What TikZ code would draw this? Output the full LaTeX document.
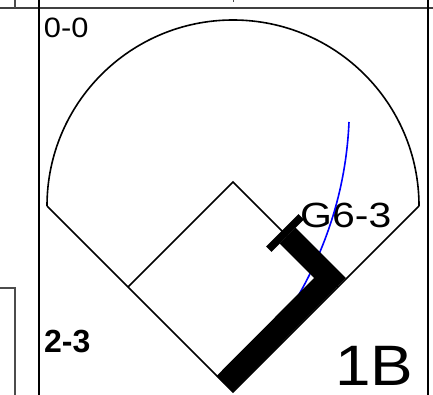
\documentclass[tikz,border=0pt]{standalone}
\usepackage{fontspec}
\setmainfont{Liberation Sans}

\begin{document}
\begin{tikzpicture}[x=1pt, y=-1pt,
    thin line/.style={line width=1.6pt},
    rule line/.style={line width=2pt, black!75},
    score/.style={anchor=base west, inner sep=0pt}]
    \useasboundingbox (0,0) rectangle (433,395);

    % Define the points of the field
    \coordinate (home) at (233,392);
    \coordinate (first) at (338,287);
    \coordinate (second) at (233,182);
    \coordinate (third) at (128,287);
    \coordinate (leftpole) at (47,206);
    \coordinate (rightpole) at (419,206);

    % Draw the box lines
    \draw[rule line] (0,8) -- (433,8);
    \draw[thin line] (39,0) -- (39,395);
    \draw[thin line] (428,0) -- (428,395);
    \draw[thin line, black!70] (15,0) -- (15,8);
    \draw[thin line, black!70] (0,288) -- (15,288) -- (15,395);
    \draw[line width=1pt, black!70] (233,0) -- (233,2);

    % Draw the field
    \draw[thin line] (leftpole) -- (home) -- (rightpole);
    \draw[thin line] (leftpole) arc[start angle=180, end angle=360, radius=186];
    \draw[thin line] (third) -- (second) -- (first);

    % Place the labels
    \node at (43.7,38) [score, xscale=1.1, font=\fontsize{28}{28}\selectfont] (count) {0-0};
    \node at (44,352) [score, font=\bfseries\fontsize{32}{32}\selectfont] (outs) {2-3};
    \node at (300,227) [score, xscale=1.17, font=\fontsize{35}{35}\selectfont] (play) {G6-3};
    \node at (335,385) [score, xscale=1.12, font=\fontsize{57}{57}\selectfont] (result) {1B};

    % Draw the hit and the runner
    \draw[blue, thin line] (297,298) .. controls (329,242.7) and (346.3,184) .. (349,122);
    \draw[line width=22.6pt] (224.5,384) -- (330,278) -- (287.7,235.7);
    \draw[line width=7.6pt] (268.9,249.2) -- (301.2,216.8);

\end{tikzpicture}
\end{document}
